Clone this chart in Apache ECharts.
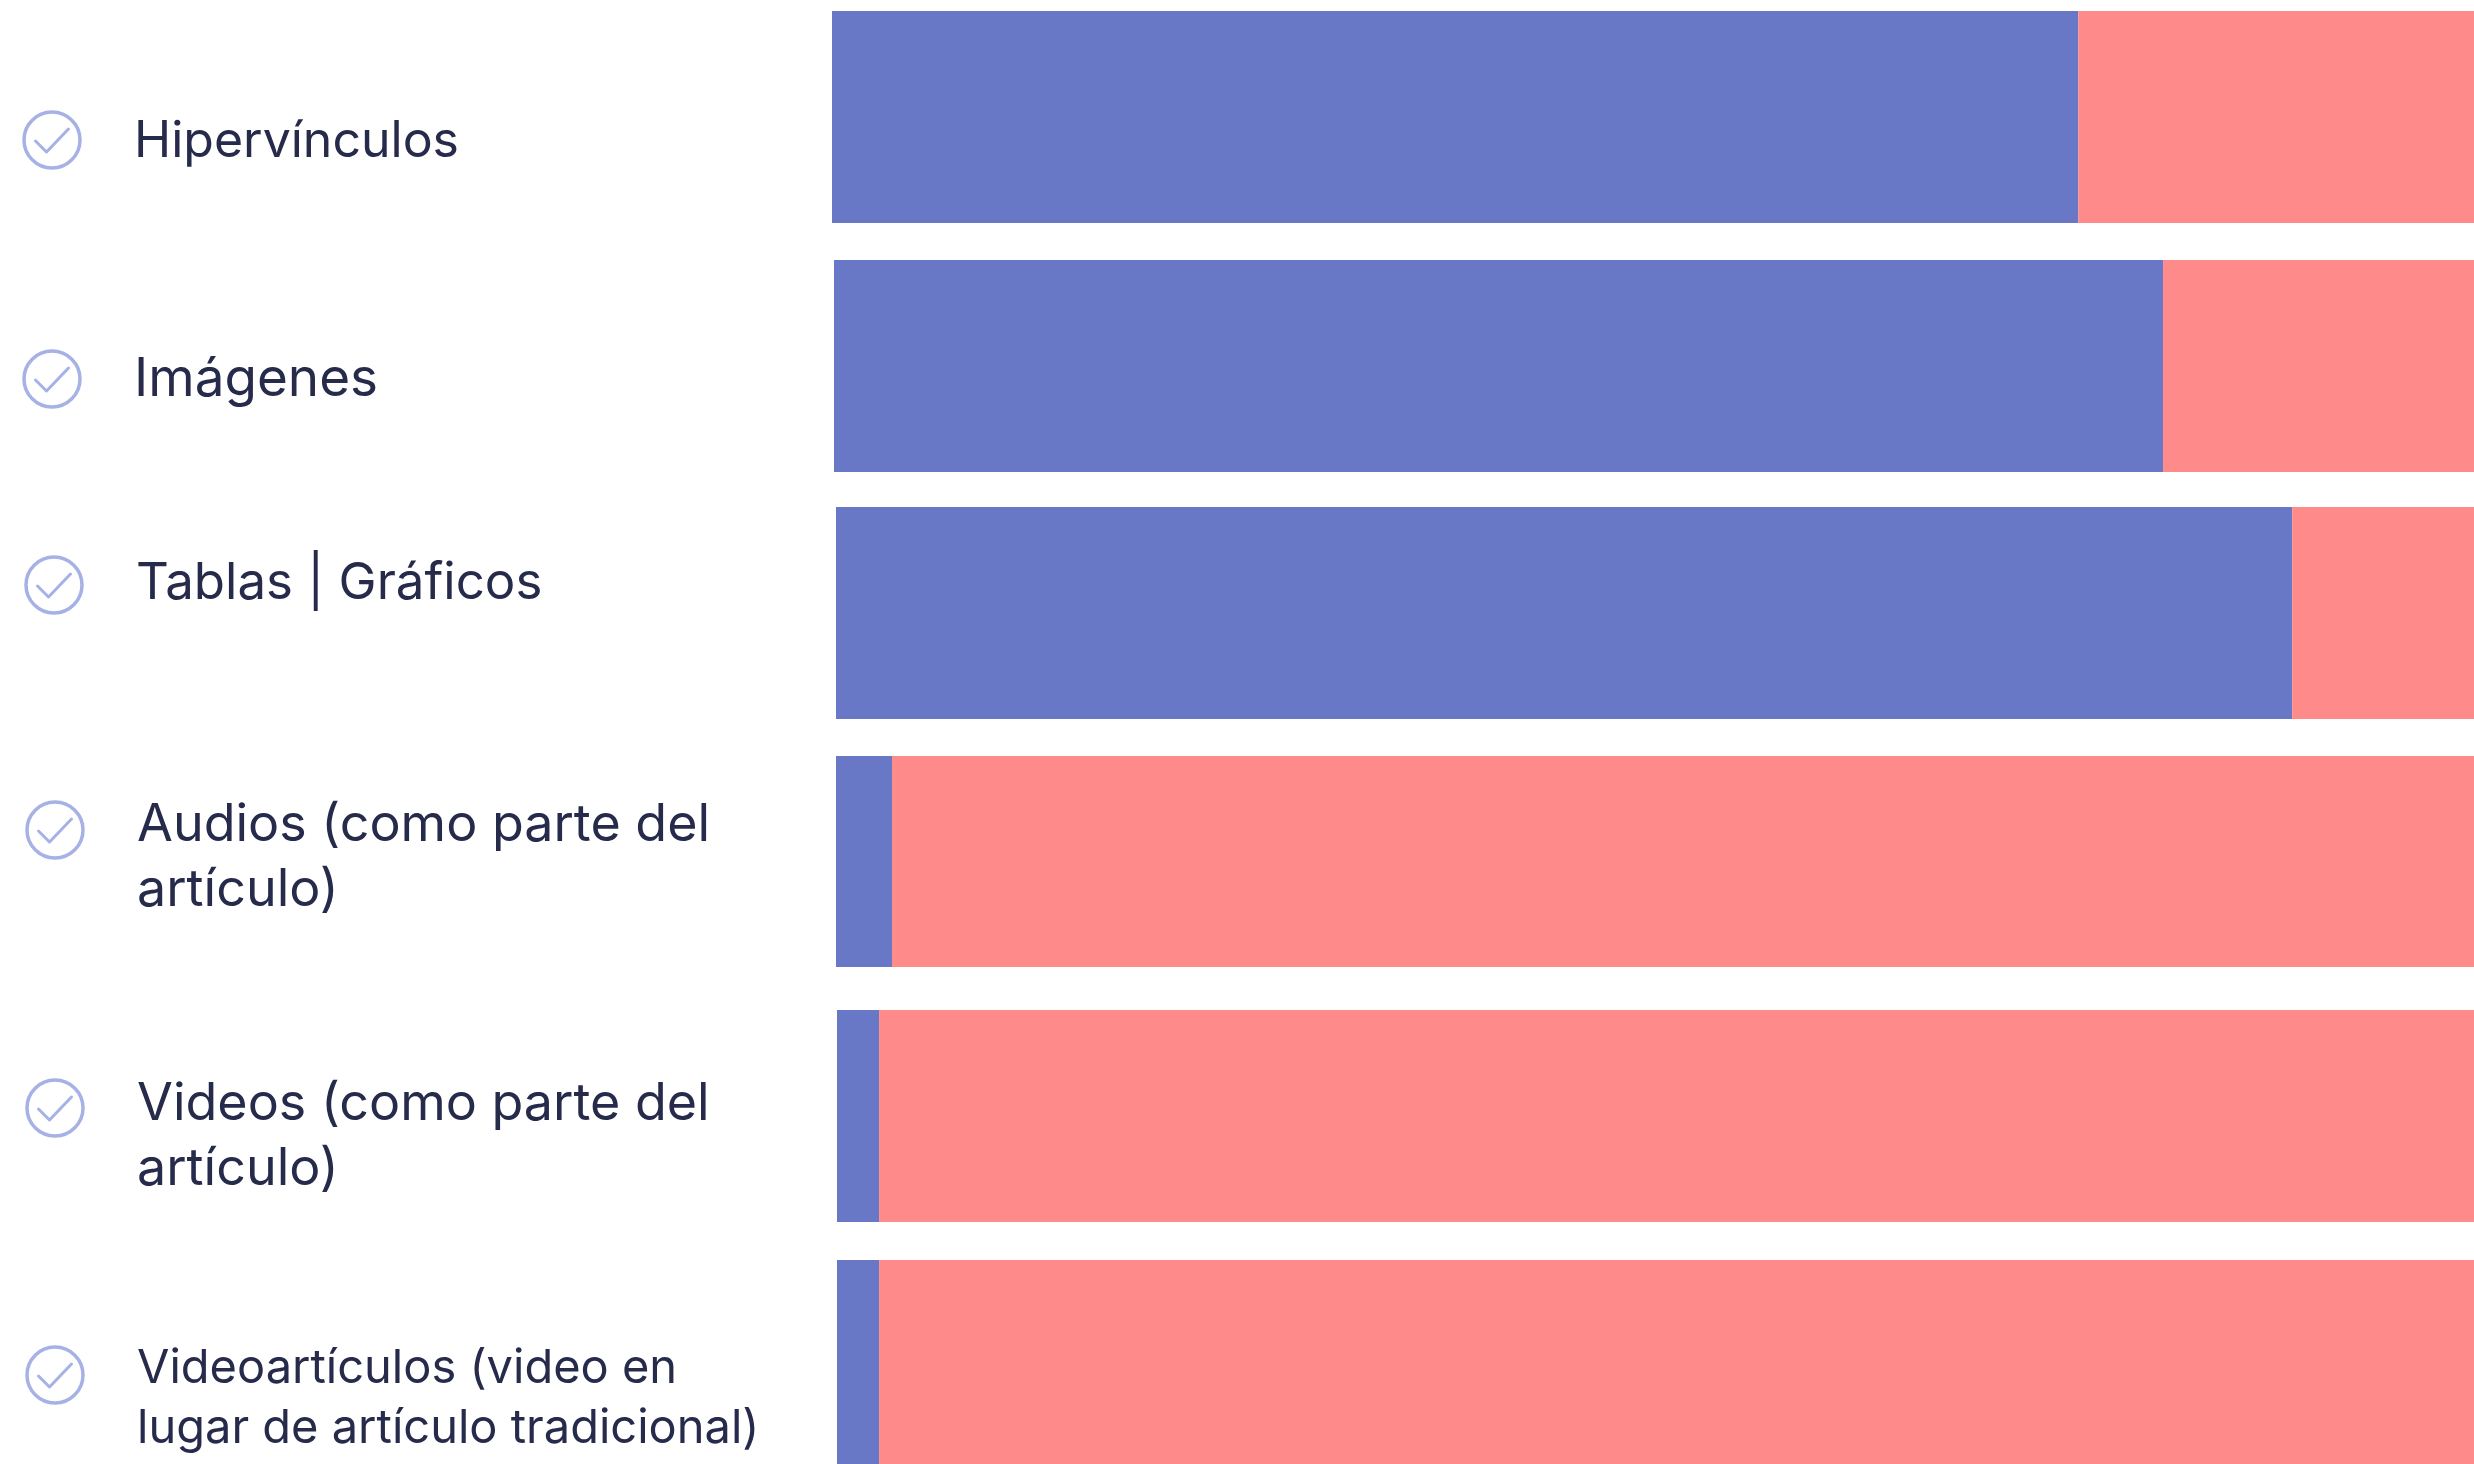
<!DOCTYPE html>
<html>
<head>
<meta charset="utf-8">
<style>html,body{margin:0;padding:0;background:#fff;overflow:hidden}#chart{width:2474px;height:1464px}</style>
<script src="https://cdn.jsdelivr.net/npm/echarts@6/dist/echarts.min.js"></script>
</head>
<body>
<div id="chart"></div>
<script>
// Resource types and the share of articles that use them (percent)
const categories = [
  'Hipervínculos',
  'Imágenes',
  'Tablas | Gráficos',
  'Audios (como parte del\nartículo)',
  'Videos (como parte del\nartículo)',
  'Videoartículos (video en\nlugar de artículo tradicional)'
];
const usesResource = [75.9, 81.04, 88.9, 3.42, 2.57, 2.57];
const lacksResource = [24.1, 18.96, 11.1, 96.58, 97.43, 97.43];

// Row placement: bar box, label origin and check icon centre
const rows = [
  {left: 832, top: 11,   h: 212, textX: 134, textY: 142,  iconX: 52, iconY: 140,  font: 50, lh: 65},
  {left: 834, top: 260,  h: 212, textX: 134, textY: 380,  iconX: 52, iconY: 379,  font: 53, lh: 65},
  {left: 836, top: 507,  h: 212, textX: 136, textY: 584,  iconX: 54, iconY: 585,  font: 51, lh: 65},
  {left: 836, top: 756,  h: 211, textX: 137, textY: 858,  iconX: 55, iconY: 830,  font: 52, lh: 65},
  {left: 837, top: 1010, h: 212, textX: 137, textY: 1137, iconX: 55, iconY: 1108, font: 52, lh: 65},
  {left: 837, top: 1260, h: 213, textX: 137, textY: 1403, iconX: 55, iconY: 1375, font: 47, lh: 60}
];

const BLUE = '#6978c6', RED = '#ff8a8a', INK = '#272b4b', RING = '#a6b1e6';
const FONT = 'Inter';
const W = 2474;

const grids = rows.map(r => ({left: r.left, top: r.top, width: W - r.left, height: r.h}));
const xAxes = rows.map((r, i) => ({type: 'value', gridIndex: i, min: 0, max: 100, show: false}));
const yAxes = rows.map((r, i) => ({
  type: 'category', gridIndex: i, data: [categories[i]],
  axisLine: {show: false}, axisTick: {show: false}, splitLine: {show: false},
  axisLabel: {show: false}
}));

const series = [];
rows.forEach((r, i) => {
  // The category name rides on the blue bar, pushed out into the left margin
  series.push({
    type: 'bar', name: 'Sí', stack: 'r' + i, xAxisIndex: i, yAxisIndex: i,
    barWidth: '100%', silent: true, itemStyle: {color: BLUE}, data: [usesResource[i]],
    label: {
      show: true, position: 'insideLeft', distance: 0, formatter: '{b}',
      offset: [r.textX - r.left, r.textY - (r.top + r.h / 2)],
      align: 'left', verticalAlign: 'middle',
      color: INK, fontFamily: FONT, fontSize: r.font, lineHeight: r.lh, fontWeight: 400
    }
  });
  series.push({
    type: 'bar', name: 'No', stack: 'r' + i, xAxisIndex: i, yAxisIndex: i,
    barWidth: '100%', silent: true, itemStyle: {color: RED}, data: [lacksResource[i]]
  });
});

// Check mark inside a thin ring, one per row
const icons = rows.map(r => ({
  type: 'group', x: r.iconX, y: r.iconY, silent: true,
  children: [
    {type: 'circle', shape: {cx: 0, cy: 0, r: 28}, style: {fill: 'none', stroke: RING, lineWidth: 3.5}},
    {type: 'polyline', shape: {points: [[-16.5, 1], [-5.5, 12], [16.5, -11]]},
     style: {fill: 'none', stroke: RING, lineWidth: 3, lineCap: 'round', lineJoin: 'round'}}
  ]
}));

const chart = echarts.init(document.getElementById('chart'), null, {renderer: 'canvas'});
chart.setOption({
  animation: false,
  backgroundColor: '#ffffff',
  grid: grids, xAxis: xAxes, yAxis: yAxes, series,
  graphic: icons
});
</script>
</body>
</html>
